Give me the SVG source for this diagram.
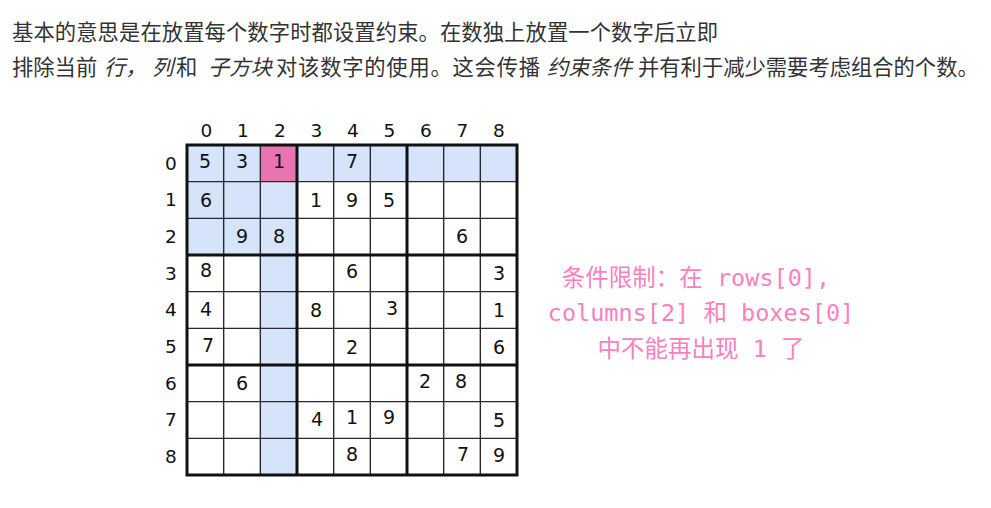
<svg xmlns="http://www.w3.org/2000/svg" width="991" height="508" viewBox="0 0 991 508">
<style>
.para{font-family:"Noto Sans CJK SC","Noto Sans",sans-serif;font-size:21.3px;fill:#333333}
.it{font-style:italic}
.lbl{font-family:"DejaVu Sans","Liberation Sans",sans-serif;font-size:18.5px;fill:#111111;text-anchor:middle}
.num{font-family:"DejaVu Sans","Liberation Sans",sans-serif;font-size:19px;fill:#111111;text-anchor:middle}
.thin{stroke:#2a2a2a;stroke-width:1.4}
.thick{stroke:#111111;stroke-width:3}
.note{font-family:"DejaVu Sans Mono","Noto Sans CJK SC",monospace;font-size:23.5px;fill:#fc80c0;text-anchor:middle}
.blue{fill:#d5e4fb}
</style>
<rect width="991" height="508" fill="#ffffff"/>
<g id="intro">
<text class="para" x="12" y="40" textLength="706" lengthAdjust="spacing">基本的意思是在放置每个数字时都设置约束。在数独上放置一个数字后立即</text>
<text class="para" y="75"><tspan x="12">排除当前</tspan><tspan class="it" x="104">行，</tspan><tspan class="it" x="152">列</tspan><tspan x="176">和</tspan><tspan class="it" x="208">子方块</tspan><tspan x="276" textLength="264" lengthAdjust="spacing">对该数字的使用。这会传播</tspan><tspan class="it" x="547">约束条件</tspan><tspan x="638">并有利于减少需要考虑组合的个数。</tspan></text>
</g>
<g id="highlights">
<rect class="blue" x="187" y="145" width="330" height="36.67"/>
<rect class="blue" x="260.33" y="145" width="36.67" height="330"/>
<rect class="blue" x="187" y="145" width="110" height="110"/>
<rect x="260.33" y="145" width="36.67" height="36.67" fill="#e874b2"/>
</g>
<g id="grid-lines">
<g class="thin">
<line x1="223.67" y1="145" x2="223.67" y2="475"/>
<line x1="260.33" y1="145" x2="260.33" y2="475"/>
<line x1="333.67" y1="145" x2="333.67" y2="475"/>
<line x1="370.33" y1="145" x2="370.33" y2="475"/>
<line x1="443.67" y1="145" x2="443.67" y2="475"/>
<line x1="480.33" y1="145" x2="480.33" y2="475"/>
<line x1="187" y1="181.67" x2="517" y2="181.67"/>
<line x1="187" y1="218.33" x2="517" y2="218.33"/>
<line x1="187" y1="291.67" x2="517" y2="291.67"/>
<line x1="187" y1="328.33" x2="517" y2="328.33"/>
<line x1="187" y1="401.67" x2="517" y2="401.67"/>
<line x1="187" y1="438.33" x2="517" y2="438.33"/>
</g>
<g class="thick">
<line x1="297" y1="145" x2="297" y2="475"/>
<line x1="407" y1="145" x2="407" y2="475"/>
<line x1="187" y1="255" x2="517" y2="255"/>
<line x1="187" y1="365" x2="517" y2="365"/>
<rect x="187" y="145" width="330" height="330" fill="none"/>
</g>
</g>
<g id="column-labels">
<text class="lbl" x="206.5" y="137">0</text>
<text class="lbl" x="243" y="137">1</text>
<text class="lbl" x="280" y="137">2</text>
<text class="lbl" x="316.5" y="137">3</text>
<text class="lbl" x="353" y="137">4</text>
<text class="lbl" x="389.5" y="137">5</text>
<text class="lbl" x="426" y="137">6</text>
<text class="lbl" x="462.5" y="137">7</text>
<text class="lbl" x="499" y="137">8</text>
</g>
<g id="row-labels">
<text class="lbl" x="171" y="169.5">0</text>
<text class="lbl" x="171" y="206">1</text>
<text class="lbl" x="171" y="242.5">2</text>
<text class="lbl" x="171" y="279.5">3</text>
<text class="lbl" x="171" y="316">4</text>
<text class="lbl" x="171" y="352.5">5</text>
<text class="lbl" x="171" y="389.5">6</text>
<text class="lbl" x="171" y="426">7</text>
<text class="lbl" x="171" y="462.5">8</text>
</g>
<g id="digits">
<text class="num" x="205" y="168">5</text>
<text class="num" x="242" y="168">3</text>
<text class="num" x="279" y="168">1</text>
<text class="num" x="352" y="168">7</text>
<text class="num" x="206" y="206.5">6</text>
<text class="num" x="316" y="206.5">1</text>
<text class="num" x="352" y="206.5">9</text>
<text class="num" x="389" y="206.5">5</text>
<text class="num" x="242" y="243">9</text>
<text class="num" x="279" y="243">8</text>
<text class="num" x="462" y="243">6</text>
<text class="num" x="206" y="277">8</text>
<text class="num" x="352" y="278">6</text>
<text class="num" x="499" y="280">3</text>
<text class="num" x="206" y="316">4</text>
<text class="num" x="316" y="316.5">8</text>
<text class="num" x="392" y="315">3</text>
<text class="num" x="499" y="317">1</text>
<text class="num" x="208" y="352">7</text>
<text class="num" x="352" y="354">2</text>
<text class="num" x="499" y="354">6</text>
<text class="num" x="242" y="390">6</text>
<text class="num" x="425" y="388">2</text>
<text class="num" x="461" y="388">8</text>
<text class="num" x="317" y="426">4</text>
<text class="num" x="352" y="424">1</text>
<text class="num" x="389" y="424">9</text>
<text class="num" x="499" y="427">5</text>
<text class="num" x="352" y="461">8</text>
<text class="num" x="463" y="461">7</text>
<text class="num" x="499" y="462">9</text>
</g>
<g id="note">
<text class="note" x="696" y="286">条件限制：在 rows[0],</text>
<text class="note" x="701" y="321">columns[2] 和 boxes[0]</text>
<text class="note" x="701" y="357">中不能再出现 1 了</text>
</g>
</svg>
